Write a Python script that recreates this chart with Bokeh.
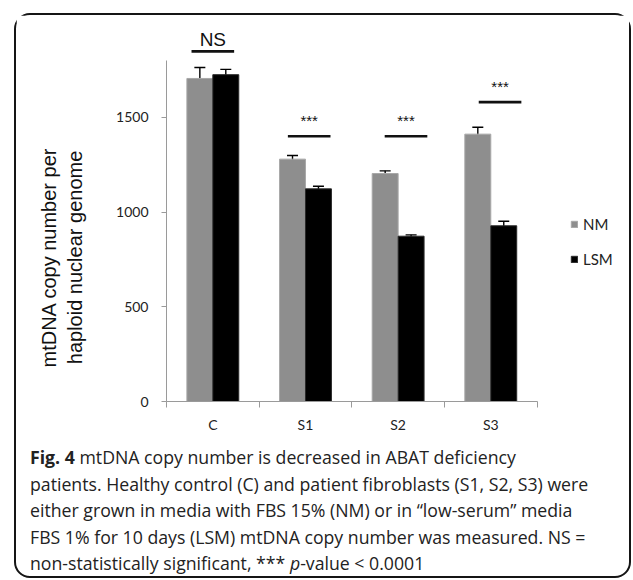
from bokeh.plotting import figure
from bokeh.models import (ColumnDataSource, FixedTicker, Whisker, TeeHead,
                          Legend, LegendItem, Div, Range1d)
from bokeh.core.properties import value
from bokeh.layouts import column
from bokeh.embed import file_html
from bokeh.resources import INLINE

# ---- data ----
categories = ["C", "S1", "S2", "S3"]
nm_values = [1706, 1280, 1204, 1412]
nm_errors = [58, 19, 14, 36]
lsm_values = [1726, 1123, 873, 928]
lsm_errors = [28, 14, 7, 24]
sig_labels = ["NS", "***", "***", "***"]
sig_heights = [1849, 1401, 1401, 1581]
sig_centers = [0.50, 0.54, 0.585, 0.60]
y_ticks = [0, 500, 1000, 1500]
series_names = ["NM", "LSM"]
y_title_lines = ["mtDNA copy number per", "haploid nuclear genome"]

idx = list(range(len(categories)))
nm_x = [i + 0.36 for i in idx]
lsm_x = [i + 0.64 for i in idx]

src_nm = ColumnDataSource(dict(
    x=nm_x, top=nm_values,
    upper=[v + e for v, e in zip(nm_values, nm_errors)],
    lower=[v - e for v, e in zip(nm_values, nm_errors)]))
src_lsm = ColumnDataSource(dict(
    x=lsm_x, top=lsm_values,
    upper=[v + e for v, e in zip(lsm_values, lsm_errors)],
    lower=[v - e for v, e in zip(lsm_values, lsm_errors)]))

p = figure(width=613, height=425, x_range=Range1d(0, 4.9),
           y_range=Range1d(0, 1991), output_backend="svg", toolbar_location=None,
           min_border_left=150, min_border_right=9, min_border_top=9,
           min_border_bottom=39)
p.outline_line_color = None
p.grid.visible = False
p.background_fill_color = "white"
p.border_fill_color = "white"

r_nm = p.vbar(x="x", top="top", width=0.28, bottom=0, source=src_nm,
              fill_color="#8e8e8e", line_color="#a8a8a8", line_width=1)
r_lsm = p.vbar(x="x", top="top", width=0.28, bottom=0, source=src_lsm,
               fill_color="#000000", line_color="#2a2a2a", line_width=1)

for src in (src_nm, src_lsm):
    w = Whisker(base="x", upper="upper", lower="lower", source=src,
                dimension="height", line_color="black", line_width=1.4,
                upper_head=TeeHead(size=11, line_color="black", line_width=1.4),
                lower_head=TeeHead(size=11, line_color="black", line_width=1.4))
    p.add_layout(w)

# significance markers
sig_x = [i + c for i, c in zip(idx, sig_centers)]
sig_src = ColumnDataSource(dict(
    x0=[x - 0.23 for x in sig_x], x1=[x + 0.23 for x in sig_x], y=sig_heights))
p.segment(x0="x0", y0="y", x1="x1", y1="y", source=sig_src,
          line_width=2.6, line_color="#111111")
ns_src = ColumnDataSource(dict(x=sig_x[:1], y=[sig_heights[0] + 62], t=sig_labels[:1]))
st_src = ColumnDataSource(dict(x=sig_x[1:], y=[h + 85 for h in sig_heights[1:]],
                               t=sig_labels[1:]))
p.text(x="x", y="y", text="t", source=ns_src, text_align="center",
       text_baseline="middle", text_font=value("Liberation Sans"),
       text_font_size="19px", text_color="#111111")
p.text(x="x", y="y", text="t", source=st_src, text_align="center",
       text_baseline="middle", text_font=value("Liberation Sans"),
       text_font_size="15px", text_color="#111111")

# y axis
ya = p.yaxis[0]
ya.ticker = FixedTicker(ticks=y_ticks)
ya.bounds = (0, 1800)
ya.axis_line_color = "#9a9a9a"
ya.major_tick_line_color = "#9a9a9a"
ya.major_tick_out = 5
ya.major_tick_in = 0
ya.minor_tick_line_color = None
ya.major_label_standoff = 13
ya.major_label_text_font = "Lato"
ya.major_label_text_font_size = "14px"
ya.major_label_text_color = "#222222"
# the label is centred on the frame, which reaches above the axis line;
# trailing no-break spaces move the visible words down to the axis' middle
pad = "\u00a0" * 16
ya.axis_label = "\n".join(line + pad for line in y_title_lines)
ya.axis_label_text_font = "Liberation Sans"
ya.axis_label_text_font_size = "20px"
ya.axis_label_text_font_style = "normal"
ya.axis_label_text_color = "#111111"
ya.axis_label_text_line_height = 1.2
ya.axis_label_standoff = 27

# x axis: labels at category centres, ticks at category boundaries
xa = p.xaxis[0]
xa.ticker = FixedTicker(ticks=[i + 0.5 for i in idx],
                        minor_ticks=list(range(len(categories) + 1)))
xa.bounds = (0, len(categories))
xa.major_label_overrides = {i + 0.5: c for i, c in zip(idx, categories)}
xa.axis_line_color = "#9a9a9a"
xa.major_tick_line_color = None
xa.major_tick_out = 0
xa.major_tick_in = 0
xa.minor_tick_line_color = "#9a9a9a"
xa.minor_tick_out = 6
xa.minor_tick_in = 0
xa.major_label_standoff = 8
xa.major_label_text_font = "Lato"
xa.major_label_text_font_size = "14px"
xa.major_label_text_color = "#222222"

legend = Legend(items=[LegendItem(label=series_names[0], renderers=[r_nm]),
                       LegendItem(label=series_names[1], renderers=[r_lsm])],
                location=(404, 133), glyph_width=8, glyph_height=8,
                label_standoff=5, spacing=17, padding=0, margin=0,
                label_text_font="Lato", label_text_font_size="15px",
                label_text_color="#222222", border_line_color=None,
                background_fill_alpha=0)
p.add_layout(legend)

caption = ("<b>Fig. 4</b> mtDNA copy number is decreased in ABAT deficiency<br>"
           "patients. Healthy control (C) and patient fibroblasts (S1, S2, S3) were<br>"
           "either grown in media with FBS 15% (NM) or in \u201clow-serum\u201d media<br>"
           "FBS 1% for 10 days (LSM) mtDNA copy number was measured. NS =<br>"
           "non-statistically significant, *** <i>p</i>-value &lt; 0.0001")
div = Div(text=caption, width=599, height=132, margin=(4, 0, 0, 0),
          styles={"font-family": "Open Sans", "font-size": "17.7px",
                  "line-height": "26.5px", "color": "#222222",
                  "padding-left": "14px", "padding-top": "0px",
                  "white-space": "nowrap"})

layout = column(p, div, margin=(13, 0, 0, 14),
                styles={"border": "2.5px solid #151515", "border-radius": "16px",
                        "background-color": "white"})

open("out.html", "w").write(file_html(layout, INLINE))
